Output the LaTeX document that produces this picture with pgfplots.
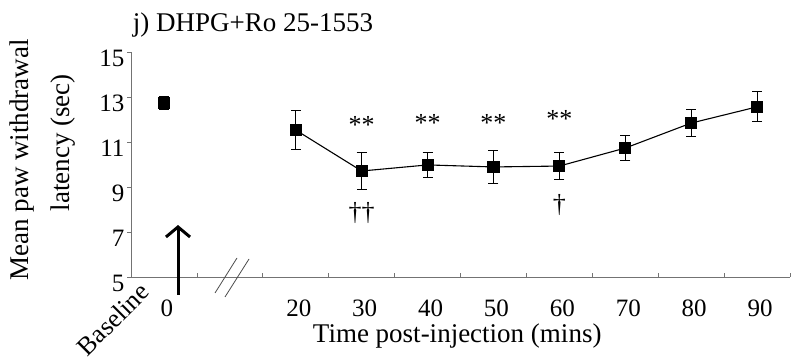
\documentclass[border=0pt]{standalone}
\usepackage{fontspec}
\setmainfont{Liberation Serif}
\usepackage{pgfplots}
\pgfplotsset{compat=1.18}
\usetikzlibrary{arrows.meta}
\begin{document}
\begin{tikzpicture}
\begin{axis}[
  scale only axis, width=659pt, height=225pt,
  xmin=-0.5, xmax=9.5, ymin=5, ymax=15,
  axis x line*=bottom, axis y line*=left,
  axis line style={-, draw=black!55, line width=0.8pt},
  ytick={5,7,9,11,13,15},
  xtick={0,2,3,4,5,6,7,8,9},
  xticklabels={0,20,30,40,50,60,70,80,90},
  minor xtick={-0.5,0.5,1.5,2.5,3.5,4.5,5.5,6.5,7.5,8.5,9.5},
  major x tick style={draw=none},
  minor x tick style={draw=black!55, line width=0.8pt},
  y tick style={draw=black!55, line width=0.8pt},
  xtick align=inside, ytick align=outside,
  major tick length=4pt, minor tick length=4pt,
  /pgf/number format/assume math mode=true,
  tick label style={font=\fontsize{25}{29}\selectfont},
  xticklabel style={yshift=-19pt, xshift=3pt},
  yticklabel style={xshift=1pt, yshift=-6pt},
  clip=false,
]
\addplot[black, only marks, mark=square*, mark size=5.5pt,
  error bars/.cd, y dir=both, y explicit,
  error bar style={line width=1pt},
  error mark options={rotate=90, mark size=5pt, line width=1pt}]
  coordinates {(0,12.73) +- (0,0.3)};
\addplot[black, line width=1.1pt, mark=square*, mark size=5.5pt,
  error bars/.cd, y dir=both, y explicit,
  error bar style={line width=1pt},
  error mark options={rotate=90, mark size=5pt, line width=1pt}]
  coordinates {
  (2,11.53) +- (0,0.88)
  (3,9.71) +- (0,0.82)
  (4,9.98) +- (0,0.57)
  (5,9.89) +- (0,0.72)
  (6,9.93) +- (0,0.6)
  (7,10.73) +- (0,0.57)
  (8,11.84) +- (0,0.6)
  (9,12.56) +- (0,0.67)
  };
% significance marks
\node[font=\fontsize{26}{30}\selectfont] at (axis cs:3,11.75) {**};
\node[font=\fontsize{26}{30}\selectfont] at (axis cs:4,11.85) {**};
\node[font=\fontsize{26}{30}\selectfont] at (axis cs:5,11.85) {**};
\node[font=\fontsize{26}{30}\selectfont] at (axis cs:6,12.0) {**};
\node[font=\fontsize{26}{30}\selectfont] at (axis cs:3,7.85) {††};
\node[font=\fontsize{26}{30}\selectfont] at (axis cs:6,8.2) {†};
% injection arrow
\draw[line width=3pt, -{Straight Barb[length=10pt,width=24pt,line width=3pt]}] (axis cs:0.213,4.2) -- (axis cs:0.213,7.31);
% axis break
\draw[black!70, line width=0.8pt] (axis cs:0.775,4.289) -- (axis cs:1.108,5.844);
\draw[black!70, line width=0.8pt] (axis cs:0.926,4.111) -- (axis cs:1.291,5.8);
% labels
\node[anchor=east, rotate=45, font=\fontsize{26}{30}\selectfont, inner sep=0pt] at (rel axis cs:0.021,-0.046) {Baseline};
\node[anchor=base, font=\fontsize{27}{32}\selectfont, inner sep=0pt] at (rel axis cs:0.495,-0.293) {Time post-injection (mins)};
\node[rotate=90, font=\fontsize{27}{32}\selectfont, inner sep=0pt] at (rel axis cs:-0.165,0.52) {Mean paw withdrawal};
\node[rotate=90, font=\fontsize{27}{32}\selectfont, inner sep=0pt] at (rel axis cs:-0.103,0.596) {latency (sec)};
\node[anchor=base, font=\fontsize{27}{32}\selectfont, inner sep=0pt] at (rel axis cs:0.185,1.089) {j) DHPG+Ro 25-1553};
\coordinate (bbA) at (rel axis cs:-0.1988,-0.373);
\coordinate (bbB) at (rel axis cs:1.003,1.231);
\end{axis}
\pgfresetboundingbox
\path (bbA) rectangle (bbB);
\end{tikzpicture}
\end{document}
